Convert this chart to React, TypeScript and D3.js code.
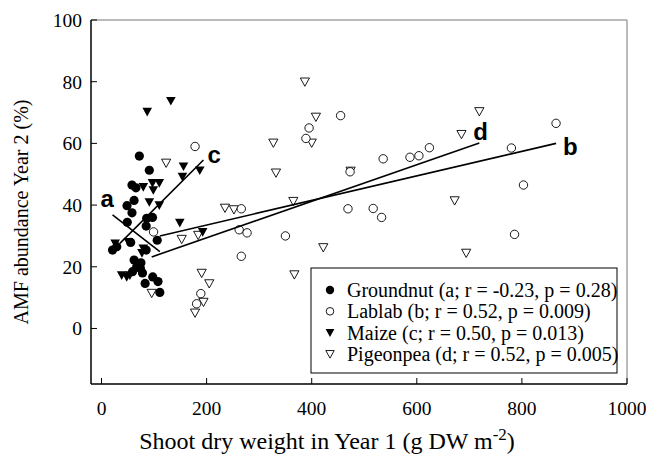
import React from "react";
import * as d3 from "d3";

// ---- data ----
const groundnutX = [72, 91, 58, 65.5, 62, 48.5, 58, 49, 97, 85, 106, 21, 55.5, 85, 62, 75, 74, 78, 97.5, 107.5, 83, 111, 59, 86, 29, 67];
const groundnutY = [55.9, 51.3, 46.5, 45.6, 41.5, 39.8, 37.5, 34.4, 36, 33.2, 28.6, 25.4, 27.9, 25.4, 22.2, 21.3, 19.5, 18, 16.7, 15.2, 14.6, 11.7, 18.4, 35.7, 26.5, 20];

const lablabX = [178, 99, 189, 181, 262, 277, 266, 266, 350, 395, 389, 455, 473, 469, 517, 533, 536, 587, 604, 624, 780, 803, 786, 865];
const lablabY = [59, 31.3, 11.3, 8, 32, 31, 38.8, 23.4, 30, 65, 61.6, 69, 50.8, 38.8, 38.9, 36, 55, 55.5, 56, 58.6, 58.5, 46.5, 30.5, 66.5];

const maizeX = [87, 132, 156, 154, 187, 110, 97, 79.5, 98.6, 91, 110, 149, 192.5, 26, 51, 79.5, 38.4, 48, 54, 77];
const maizeY = [70.3, 73.8, 52.6, 49.2, 51.3, 47.2, 47.2, 45.9, 44.9, 41, 40, 34.3, 31.3, 27.6, 28.1, 26, 17.3, 16.7, 17.3, 24.5];

const pigeonpeaX = [123, 95.5, 152.6, 184, 235, 252, 190.6, 205, 194, 178, 327, 332, 365, 367, 387, 400, 408, 422, 474, 672, 685, 694, 719];
const pigeonpeaY = [53.7, 11.5, 29, 30.3, 39.1, 38.6, 18, 14.6, 8.6, 5.1, 60.2, 50.5, 41.3, 17.5, 80, 60.2, 68.6, 26.3, 51.1, 41.5, 63, 24.5, 70.4];

// regression lines: [x0, y0, x1, y1]
const fitLetters = ["a", "b", "c", "d"];
const fitX0 = [21, 111, 35, 95.5];
const fitY0 = [36.8, 30, 27.6, 23.2];
const fitX1 = [111, 865, 194, 719];
const fitY1 = [24.9, 60, 54.6, 60.1];

const legendLabels = [
  "Groundnut (a; r = -0.23, p = 0.28)",
  "Lablab (b; r = 0.52, p = 0.009)",
  "Maize (c; r = 0.50, p = 0.013)",
  "Pigeonpea (d; r = 0.52, p = 0.005)",
];

const xTicks = [0, 200, 400, 600, 800, 1000];
const yTicks = [0, 20, 40, 60, 80, 100];

const W = 646;
const H = 456;
const L = 91, R = 627, T = 20, B = 384;

const x = d3.scaleLinear().domain([-20, 1000]).range([L, R]);
const y = d3.scaleLinear().domain([-18, 100]).range([B, T]);

const serif = "Liberation Serif, Times New Roman, Times, DejaVu Serif, serif";
const sans = "Liberation Sans, Arial, Helvetica, sans-serif";

const downTri = (s: number) => `M${-s},${-s * 0.8}L${s},${-s * 0.8}L0,${s}Z`;

function zip(xs: number[], ys: number[]) {
  return xs.map((v, i) => [v, ys[i]] as [number, number]);
}

export default function App() {
  const labelOffsets: Record<string, [number, number]> = {
    a: [-12, -8],
    b: [7, 12],
    c: [4, 3],
    d: [-6, -3],
  };
  const line = d3.line<[number, number]>().x((d) => x(d[0])).y((d) => y(d[1]));
  const legX = 311, legY = 268, legW = 306, legH = 105;
  const serifStyle = { fontFamily: serif };
  return (
    <svg width={W} height={H} style={{ position: "absolute", left: 0, top: 0, background: "#fff" }}>
      {/* frame */}
      <line x1={L} x2={R} y1={T} y2={T} stroke="#777" strokeWidth={1} />
      <line x1={R} x2={R} y1={T} y2={B} stroke="#777" strokeWidth={1} />
      <line x1={L} x2={L} y1={T} y2={B} stroke="#000" strokeWidth={1.5} />
      <line x1={L} x2={R} y1={B} y2={B} stroke="#000" strokeWidth={1.5} />
      {/* y ticks */}
      {yTicks.map((t) => (
        <g key={"y" + t}>
          <line x1={L} x2={L + 6} y1={y(t)} y2={y(t)} stroke="#000" strokeWidth={1} />
          <text x={L - 9} y={y(t)} dy="0.35em" textAnchor="end" style={serifStyle} fontSize={19.5}>
            {t}
          </text>
        </g>
      ))}
      {/* x ticks */}
      {xTicks.map((t) => (
        <g key={"x" + t}>
          <line x1={x(t)} x2={x(t)} y1={B} y2={B - 6} stroke="#000" strokeWidth={1} />
          <text x={x(t)} y={415} textAnchor="middle" style={serifStyle} fontSize={19.5}>
            {t}
          </text>
        </g>
      ))}
      {/* axis titles */}
      <text x={327} y={449} textAnchor="middle" style={serifStyle} fontSize={24}>
        Shoot dry weight in Year 1 (g DW m<tspan dy={-9} fontSize={17}>-2</tspan>
        <tspan dy={9}>)</tspan>
      </text>
      <text
        transform={`translate(28,${(T + B) / 2 + 10}) rotate(-90)`}
        textAnchor="middle"
        style={serifStyle}
        fontSize={20}
      >
        AMF abundance Year 2 (%)
      </text>
      {/* points */}
      {zip(pigeonpeaX, pigeonpeaY).map((d, i) => (
        <path key={"p" + i} d={downTri(4.6)} transform={`translate(${x(d[0])},${y(d[1])})`} fill="#fff" stroke="#000" strokeWidth={0.9} />
      ))}
      {zip(lablabX, lablabY).map((d, i) => (
        <circle key={"l" + i} cx={x(d[0])} cy={y(d[1])} r={4.2} fill="#fff" stroke="#000" strokeWidth={0.9} />
      ))}
      {zip(maizeX, maizeY).map((d, i) => (
        <path key={"m" + i} d={downTri(4.8)} transform={`translate(${x(d[0])},${y(d[1])})`} fill="#000" />
      ))}
      {zip(groundnutX, groundnutY).map((d, i) => (
        <circle key={"g" + i} cx={x(d[0])} cy={y(d[1])} r={4.6} fill="#000" />
      ))}
      {/* regression lines */}
      {fitLetters.map((k, i) => {
        const p0: [number, number] = [fitX0[i], fitY0[i]];
        const p1: [number, number] = [fitX1[i], fitY1[i]];
        const o = labelOffsets[k];
        const anchor = k === "a" ? p0 : p1;
        return (
          <g key={"f" + k}>
            <path d={line([p0, p1]) || ""} stroke="#000" strokeWidth={1.6} fill="none" />
            <text x={x(anchor[0]) + o[0]} y={y(anchor[1]) + o[1]} style={{ fontFamily: sans }} fontWeight="bold" fontSize={24}>
              {k}
            </text>
          </g>
        );
      })}
      {/* legend */}
      <rect x={legX} y={legY} width={legW} height={legH} fill="#fff" stroke="#000" strokeWidth={1} />
      {legendLabels.map((lab, i) => {
        const cy = legY + 22 + i * 21.3;
        const cx = legX + 19;
        let sym;
        if (i === 0) sym = <circle cx={cx} cy={cy} r={4.2} fill="#000" />;
        else if (i === 1) sym = <circle cx={cx} cy={cy} r={3.8} fill="#fff" stroke="#000" strokeWidth={0.9} />;
        else if (i === 2) sym = <path d={downTri(4.4)} transform={`translate(${cx},${cy})`} fill="#000" />;
        else sym = <path d={downTri(4.2)} transform={`translate(${cx},${cy})`} fill="#fff" stroke="#000" strokeWidth={0.9} />;
        return (
          <g key={"lg" + i}>
            {sym}
            <text x={legX + 36} y={cy} dy="0.35em" style={serifStyle} fontSize={20}>
              {lab}
            </text>
          </g>
        );
      })}
    </svg>
  );
}
